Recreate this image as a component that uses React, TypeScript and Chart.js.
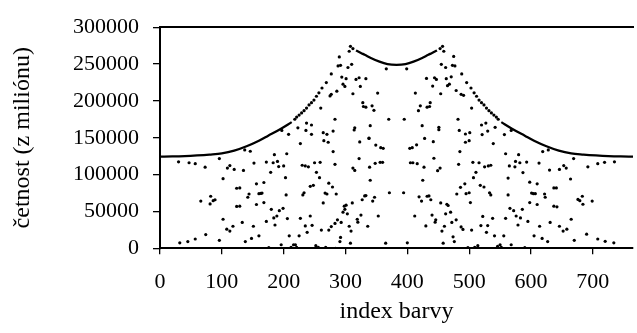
import { useEffect, useRef } from "react";
import { Chart, registerables } from "chart.js";

Chart.register(...registerables);

type P = [number, number];

const FONT = "'Liberation Serif', 'Times New Roman', serif";
const xTitle = "index barvy";
const yTitle = "četnost (z miliónu)";
const yTickValues = [0, 50000, 100000, 150000, 200000, 250000, 300000];

// solid (dense) parts of the upper envelope
const curveLeft: P[] = [
  [0, 124400], [20, 124600], [40, 125100], [60, 126000], [80, 127200], [100, 128800],
  [120, 132500], [140, 138500], [160, 146000], [175, 152800], [195, 162000], [213, 171200],
];
const curveRight: P[] = [
  [552, 171200], [570, 162000], [590, 152800], [605, 146000], [625, 138500], [645, 132500],
  [665, 128800], [685, 127200], [705, 126000], [725, 125100], [745, 124600], [765, 124400],
];
const curveDip: P[] = [
  [317, 268500], [325, 265000], [331, 262600], [341, 258300], [355, 253200], [368, 250000],
  [382.5, 249000], [397, 250000], [410, 253200], [424, 258300], [434, 262600], [440, 265000],
  [448, 268500],
];

// sparse dots along the envelope near the peaks
const rimDots: P[] = [
  [218, 175100], [221, 178100], [225, 180700], [229, 183700], [233, 186800], [237, 190200],
  [241, 194600], [245, 197600], [249, 201100], [253, 206300], [257, 211000], [262, 217500],
  [269, 224900], [277, 236600], [306, 267400], [308, 274000], [312, 271000],
  [547, 175100], [544, 178100], [540, 180700], [536, 183700], [532, 186800], [528, 190200],
  [524, 194600], [520, 197600], [516, 201100], [512, 206300], [508, 211000], [503, 217500],
  [496, 224900], [488, 236600], [459, 267400], [457, 274000], [453, 271000],
];

const upperLeftDots: P[] = [
  [290, 259600], [288, 247400], [292, 248300], [304, 245300], [310, 249600], [294, 232300],
  [301, 230100], [317, 229200], [322, 231400], [333, 230100], [296, 222700], [299, 219700],
  [286, 213200], [277, 208900], [275, 206700], [312, 209700], [324, 219700], [352, 210600],
  [328, 197600], [329, 192400], [333, 191500], [343, 193300], [346, 187200], [260, 190200],
  [283, 175100], [370, 175100], [237, 169900], [245, 167300], [223, 163400], [197, 159900],
  [236, 159900], [245, 154700], [208, 154700], [264, 156900], [270, 154700], [280, 159000],
  [315, 163400], [314, 160500], [340, 166400], [338, 149100], [366, 243500],
];

const upperRightDots: P[] = [
  [475, 260400], [477, 247400], [473, 248300], [462, 245300], [455, 249600], [471, 232700],
  [463, 230100], [447, 229200], [444, 231400], [431, 230500], [468, 222700], [465, 220600],
  [479, 214100], [487, 208900], [491, 207600], [454, 209700], [441, 220100], [413, 210600],
  [437, 197600], [436, 192400], [432, 191500], [421, 193300], [418, 186800], [504, 190200],
  [482, 175100], [395, 175100], [527, 169900], [520, 167300], [542, 164200], [568, 159900],
  [530, 159000], [521, 154300], [557, 154300], [501, 156900], [494, 155100], [484, 159900],
  [451, 164200], [451, 161000], [424, 166400], [428, 149100], [399, 243500],
];

const lowerLeftDots: P[] = [
  [30, 117400], [47, 116100], [57, 114800], [73, 110100], [96, 121800], [102, 94500],
  [109, 108800], [113, 112200], [120, 107000], [135, 105700], [137, 133500], [146, 131700],
  [152, 115700], [172, 117000], [179, 103100], [183, 116100], [185, 127000], [190, 117900],
  [192, 110900], [200, 111800], [205, 128300], [203, 95800], [204, 72400], [227, 142100],
  [230, 112700], [235, 111800], [240, 110500], [250, 116100], [253, 103100], [259, 116600],
  [258, 95800], [265, 146000], [272, 143900], [280, 131300], [283, 114000], [273, 88400],
  [279, 83200], [267, 75000], [270, 73700], [285, 73700], [264, 61500], [243, 84100],
  [248, 85400], [231, 72400], [233, 75400], [323, 144300], [338, 149500], [349, 140000],
  [357, 136500], [361, 135600], [322, 121800], [312, 108800], [315, 105700], [339, 110100],
  [348, 115300], [356, 116600], [360, 116600], [340, 92300], [371, 75400], [331, 71100],
  [333, 71500], [327, 65900], [347, 69300], [344, 64100], [311, 61500], [301, 58500],
  [298, 57200], [299, 52900], [296, 49000], [303, 46800], [325, 45100], [319, 39400],
  [320, 35500], [287, 38600], [283, 33800], [293, 35100], [277, 29500], [261, 24700],
  [273, 24700], [306, 29900], [309, 23400], [336, 29900], [353, 43800], [365, 6900],
  [292, 14700], [291, 9100], [66, 64100], [82, 70600], [81, 60200], [86, 64600], [89, 65900],
  [102, 39400], [108, 26000], [113, 23400], [118, 29900], [133, 35100], [124, 56800],
  [129, 57200], [124, 81500], [129, 81900], [142, 69300], [144, 73700], [160, 74100],
  [163, 74500], [165, 75000], [156, 87500], [168, 89300], [156, 59400], [168, 62000],
  [180, 52900], [184, 41200], [189, 43800], [193, 51100], [199, 54200], [206, 40300],
  [172, 36400], [186, 31600], [151, 29900], [138, 9100], [148, 13400], [160, 16900],
  [209, 16900], [225, 16900], [227, 40700], [235, 30300], [238, 21700], [243, 43800],
  [246, 31200], [32, 7400], [45, 9100], [57, 12600], [74, 18600], [96, 10800], [176, 900],
  [196, 4800], [212, 1300], [216, 4800], [219, 4800], [221, 1300], [252, 3500], [256, 1300],
  [268, 1300], [284, 100], [308, 6900],
];

const lowerRightDots: P[] = [
  [442, 144700], [415, 140400], [404, 135600], [408, 136500], [494, 143900], [500, 146000],
  [539, 142100], [405, 116100], [409, 116100], [416, 114800], [427, 110100], [443, 122200],
  [449, 105300], [453, 108800], [483, 114000], [485, 131300], [506, 116600], [516, 116100],
  [525, 110500], [531, 111800], [535, 112700], [511, 103100], [507, 95800], [559, 128300],
  [565, 111800], [574, 110500], [575, 117900], [580, 127000], [582, 116100], [587, 102700],
  [593, 117000], [613, 115700], [619, 131300], [628, 133500], [669, 121800], [630, 106200],
  [646, 107000], [653, 112200], [657, 108800], [664, 94000], [692, 110500], [708, 114800],
  [719, 116600], [735, 117400], [425, 92300], [394, 75400], [419, 69800], [423, 64100],
  [432, 70600], [435, 71100], [438, 65900], [454, 61500], [464, 59800], [466, 58100],
  [470, 49000], [462, 46800], [440, 45100], [412, 43800], [446, 38600], [445, 35500],
  [430, 30300], [460, 29900], [456, 23400], [472, 35100], [479, 38600], [487, 29000],
  [490, 25600], [504, 24700], [474, 15600], [476, 9100], [458, 6900], [400, 7400],
  [486, 82800], [493, 87500], [480, 73700], [495, 74100], [500, 75400], [502, 62000],
  [518, 85400], [524, 83200], [533, 75400], [535, 72400], [522, 43300], [519, 30800],
  [530, 30800], [538, 40700], [528, 21700], [541, 16900], [556, 16900], [559, 40700],
  [566, 54200], [572, 51100], [576, 43800], [583, 41200], [586, 52900], [579, 31600],
  [595, 36400], [563, 72400], [563, 95300], [598, 89700], [610, 87500], [601, 75000],
  [604, 74100], [607, 74100], [622, 73700], [623, 69300], [598, 62000], [610, 59400],
  [614, 29900], [631, 35100], [637, 81900], [641, 81900], [637, 57200], [642, 56300],
  [665, 39400], [646, 29900], [652, 23400], [658, 26000], [676, 66300], [683, 70600],
  [679, 64600], [684, 59800], [699, 64100], [605, 16900], [618, 13400], [627, 9100],
  [670, 10800], [690, 19100], [708, 12600], [720, 9500], [734, 7400], [498, 900], [509, 1300],
  [514, 3500], [546, 2600], [550, 4800], [552, 1300], [568, 4800], [590, 900],
];

const toXY = (a: P[]) => a.map(([x, y]) => ({ x, y }));

export default function App() {
  const ref = useRef<HTMLCanvasElement>(null);

  useEffect(() => {
    const canvas = ref.current;
    if (!canvas) return;

    const curveStyle = {
      showLine: true,
      pointRadius: 0,
      borderColor: "#000",
      borderWidth: 2.3,
      cubicInterpolationMode: "monotone" as const,
    };
    const dotStyle = {
      showLine: false,
      pointRadius: 1.6,
      pointBorderWidth: 0,
      pointBackgroundColor: "#000",
      backgroundColor: "#000",
      borderColor: "#000",
    };

    const chart = new Chart(canvas, {
      type: "scatter",
      data: {
        datasets: [
          { data: toXY(curveLeft), ...curveStyle },
          { data: toXY(curveRight), ...curveStyle },
          { data: toXY(curveDip), ...curveStyle },
          { data: toXY(rimDots), ...dotStyle },
          { data: toXY(upperLeftDots), ...dotStyle },
          { data: toXY(upperRightDots), ...dotStyle },
          { data: toXY(lowerLeftDots), ...dotStyle },
          { data: toXY(lowerRightDots), ...dotStyle },
        ],
      },
      options: {
        responsive: false,
        animation: false,
        events: [],
        layout: { padding: 0 },
        plugins: { legend: { display: false }, tooltip: { enabled: false } },
        scales: {
          x: {
            type: "linear",
            position: "bottom",
            min: 0,
            max: 765,
            afterFit: (s: any) => {
              s.height = 84.7;
            },
            ticks: {
              stepSize: 100,
              includeBounds: false,
              color: "#000",
              padding: 15,
              font: { family: FONT, size: 22 },
              callback: (v: any) => String(v),
            },
            grid: {
              display: true,
              drawOnChartArea: false,
              drawTicks: true,
              tickLength: 6,
              color: "#000",
              lineWidth: 1.3,
            },
            border: { display: true, color: "#000", width: 2 },
            title: {
              display: true,
              text: xTitle,
              color: "#000",
              font: { family: FONT, size: 24 },
              padding: { top: 0, bottom: 6.6 },
            },
          },
          x2: {
            type: "linear",
            position: "top",
            min: 0,
            max: 765,
            afterFit: (s: any) => {
              s.height = 15.7;
            },
            ticks: { display: false },
            grid: { display: false, drawTicks: false },
            border: { display: true, color: "#000", width: 2 },
          },
          y: {
            type: "linear",
            position: "left",
            min: 0,
            max: 300000,
            afterFit: (s: any) => {
              s.width = 160;
            },
            afterBuildTicks: (s: any) => {
              s.ticks = yTickValues.map((value) => ({ value }));
            },
            ticks: {
              color: "#000",
              padding: 14,
              font: { family: FONT, size: 22 },
              callback: (v: any) => String(v),
            },
            grid: {
              display: true,
              drawOnChartArea: false,
              drawTicks: true,
              tickLength: 7,
              color: "#000",
              lineWidth: 1.3,
            },
            border: { display: true, color: "#000", width: 2 },
            title: {
              display: true,
              text: yTitle,
              color: "#000",
              font: { family: FONT, size: 24 },
              padding: { top: 8.1, bottom: 0 },
            },
          },
        },
      },
    });

    return () => chart.destroy();
  }, []);

  return (
    <div style={{ position: "absolute", left: 0, top: 0, width: 637, height: 333, background: "#fff" }}>
      <canvas ref={ref} width={637} height={333} style={{ display: "block" }} />
    </div>
  );
}
